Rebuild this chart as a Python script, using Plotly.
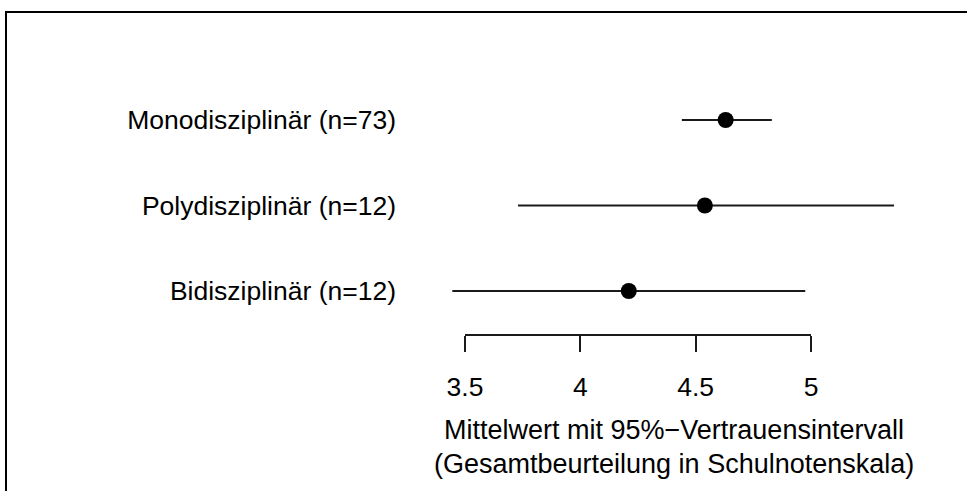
import plotly.graph_objects as go

# Group labels (top to bottom), means and 95% confidence limits
groups = ["Monodisziplinär (n=73)", "Polydisziplinär (n=12)", "Bidisziplinär (n=12)"]
means = [4.63, 4.54, 4.21]
ci_low = [4.44, 3.73, 3.445]
ci_high = [4.83, 5.36, 4.975]
rows = [3, 2, 1]

tick_vals = [3.5, 4, 4.5, 5]
tick_text = ["3.5", "4", "4.5", "5"]

x_title = ["Mittelwert mit 95%\u2212Vertrauensintervall",
           "(Gesamtbeurteilung in Schulnotenskala)"]

W, H = 967, 491
FONT = "Liberation Sans, Arial, Helvetica, sans-serif"

# pixel geometry of the scale: 3.5 -> 465 px, 5 -> 811 px
px_lo, px_hi = 465, 811
upp = (tick_vals[-1] - tick_vals[0]) / (px_hi - px_lo)
x_min = tick_vals[0] - px_lo * upp
x_max = tick_vals[-1] + (W - px_hi) * upp

# rows at 120 / 206 / 291 px from the top
row_px = 85.5
y_top = rows[0] + 120 / row_px
y_bot = rows[-1] - (H - 291) / row_px

fig = go.Figure()
fig.add_trace(go.Scatter(
    x=means, y=rows, mode="markers",
    marker=dict(color="black", size=16, line=dict(width=0)),
    error_x=dict(type="data", symmetric=False,
                 array=[h - m for h, m in zip(ci_high, means)],
                 arrayminus=[m - l for m, l in zip(means, ci_low)],
                 width=0, thickness=2, color="#1a1a1a"),
    showlegend=False, hoverinfo="skip", cliponaxis=False,
))

# empty trace bound to the scale axis so that it is rendered
fig.add_trace(go.Scatter(x=[None], y=[None], xaxis="x2", yaxis="y",
                         showlegend=False, hoverinfo="skip"))

axis_y_px = 335
fig.update_layout(
    width=W, height=H,
    margin=dict(l=0, r=0, t=0, b=0, pad=0),
    paper_bgcolor="white", plot_bgcolor="rgba(0,0,0,0)",
    font=dict(family=FONT, size=26.5, color="black"),
    xaxis=dict(range=[x_min, x_max], domain=[0, 1], visible=False, fixedrange=True),
    xaxis2=dict(
        range=[tick_vals[0], tick_vals[-1]], domain=[px_lo / W, px_hi / W],
        anchor="free", position=(H - axis_y_px) / H, side="bottom",
        showline=True, linecolor="#1a1a1a", linewidth=2,
        ticks="outside", ticklen=16, tickwidth=2, tickcolor="#1a1a1a",
        tickvals=tick_vals, ticktext=tick_text, ticklabelstandoff=12,
        tickfont=dict(size=26.5, family=FONT, color="black"),
        showgrid=False, zeroline=False, automargin=False, fixedrange=True,
    ),
    yaxis=dict(
        range=[y_bot, y_top], domain=[0, 1], anchor="free", position=396 / W,
        tickvals=rows, ticktext=groups, ticks="", showline=False,
        showgrid=False, zeroline=False, automargin=False, fixedrange=True,
        tickfont=dict(size=26.5, family=FONT, color="black"),
    ),
    annotations=[
        dict(text=line, xref="paper", yref="paper", x=674 / W, y=(H - ypx) / H,
             xanchor="center", yanchor="middle", showarrow=False,
             font=dict(size=27, family=FONT, color="black"))
        for line, ypx in zip(x_title, [430, 464])
    ],
    shapes=[dict(type="rect", xref="paper", yref="paper",
                 x0=6 / W, x1=1.05, y0=-0.05, y1=(H - 12) / H,
                 line=dict(color="black", width=2), fillcolor="rgba(0,0,0,0)")],
)

fig.write_html("out.html")
